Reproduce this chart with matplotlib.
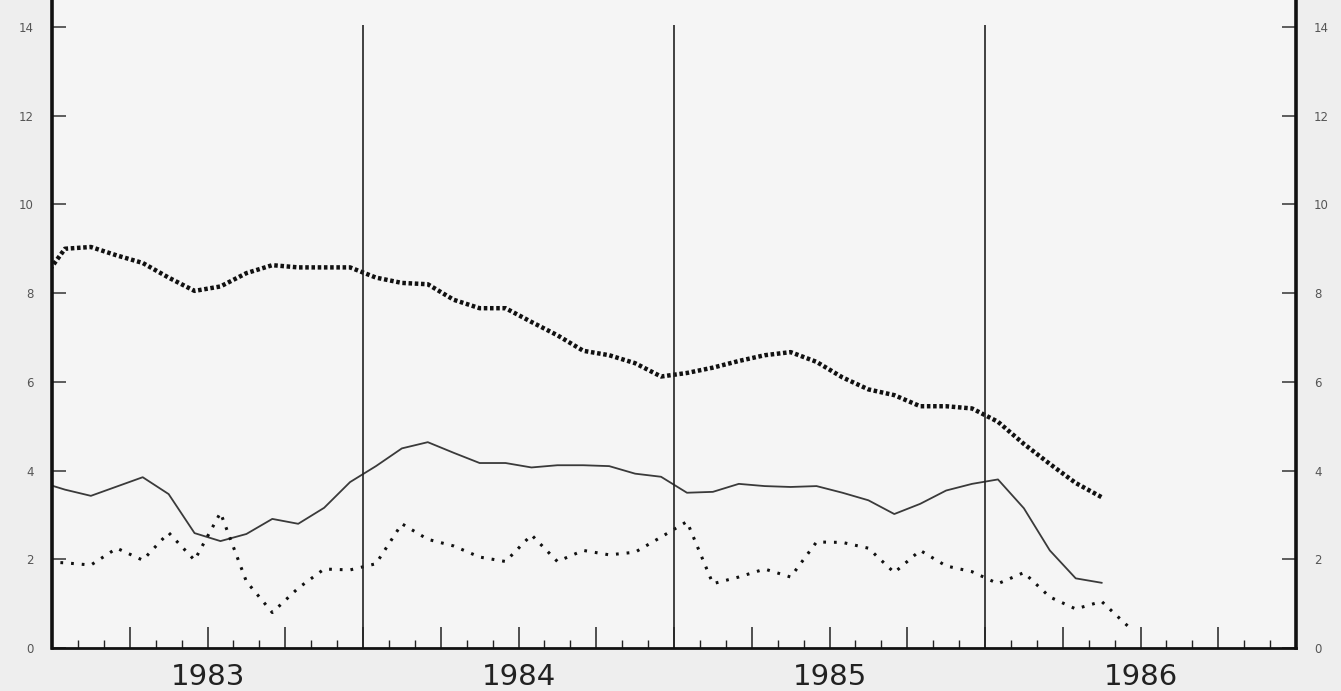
import numpy as np
import matplotlib
matplotlib.use("Agg")
from matplotlib import pyplot as plt
from matplotlib.ticker import MultipleLocator

# monthly values, first point is Dec 1982 (clipped by the axis)
series_top = [8.2, 9.0, 9.04, 8.85, 8.68, 8.35, 8.05, 8.15, 8.45, 8.63, 8.58, 8.58,
              8.58, 8.35, 8.23, 8.2, 7.85, 7.66, 7.66, 7.35, 7.05, 6.7, 6.6, 6.42,
              6.12, 6.2, 6.32, 6.47, 6.6, 6.67, 6.45, 6.1, 5.83, 5.7, 5.45, 5.45,
              5.4, 5.1, 4.6, 4.15, 3.72, 3.4]
series_mid = [3.75, 3.57, 3.43, 3.64, 3.85, 3.47, 2.59, 2.41, 2.57, 2.91, 2.80, 3.16,
              3.74, 4.1, 4.5, 4.64, 4.4, 4.17, 4.17, 4.07, 4.12, 4.12, 4.1, 3.93,
              3.86, 3.5, 3.52, 3.7, 3.65, 3.63, 3.65, 3.5, 3.33, 3.02, 3.25, 3.55,
              3.7, 3.8, 3.15, 2.2, 1.57, 1.47]
series_low = [1.95, 1.92, 1.87, 2.25, 1.98, 2.6, 1.98, 3.05, 1.5, 0.8, 1.35, 1.78,
              1.76, 1.9, 2.8, 2.45, 2.3, 2.05, 1.95, 2.55, 1.95, 2.2, 2.1, 2.16,
              2.5, 2.85, 1.45, 1.6, 1.78, 1.6, 2.39, 2.38, 2.25, 1.7, 2.2, 1.85,
              1.72, 1.45, 1.7, 1.15, 0.88, 1.05, 0.5]
years = [1983, 1984, 1985, 1986]
year_labels = ['1983', '1984', '1985', '1986']
y_ticks = [0, 2, 4, 6, 8, 10, 12, 14]


def month_x(values):
    # mid-month positions, index 0 = December 1982
    return 1983 + (np.arange(len(values)) - 0.5) / 12.0


fig = plt.figure(figsize=(13.41, 6.91), dpi=100, facecolor='#eeeeee')
ax = fig.add_axes([52 / 1341, 1 - 648 / 691, 1244 / 1341, 648 / 691])
ax.set_facecolor('#f5f5f5')

ax.plot(month_x(series_top), series_top, color='#111111', lw=3.2,
        linestyle=(0, (0.8, 0.6)), solid_capstyle='butt', dash_capstyle='butt')
ax.plot(month_x(series_mid), series_mid, color='#3a3a3a', lw=1.3)
ax.plot(month_x(series_low), series_low, color='#111111', lw=2.2,
        linestyle=(0, (0.9, 2.6)))

# year boundaries
ax.vlines(years[1:], 0, 14.05, color='#222222', lw=1.2)

ax.set_xlim(1983, 1987)
ax.set_ylim(0, 648 / 44.36)

ax.xaxis.set_major_locator(MultipleLocator(0.25))
ax.xaxis.set_minor_locator(MultipleLocator(1 / 12))
ax.tick_params(axis='x', which='major', direction='in', length=15, width=1.1,
               color='#222222', labelbottom=False)
ax.tick_params(axis='x', which='minor', direction='in', length=6, width=1.0,
               color='#222222')

ax.set_yticks(y_ticks)
ax.set_yticklabels([str(v) for v in y_ticks])
ax.tick_params(axis='y', direction='in', length=10, width=1.1, color='#333333',
               labelsize=8.5, labelcolor='#555555', pad=13,
               left=True, right=True, labelleft=True, labelright=True)

for side in ['left', 'right']:
    ax.spines[side].set_linewidth(2.6)
    ax.spines[side].set_color('#111111')
ax.spines['bottom'].set_linewidth(2.0)
ax.spines['bottom'].set_color('#111111')
ax.spines['top'].set_visible(False)

# year names centred under each year
for yr, lab in zip(years, year_labels):
    ax.text(yr + 0.5, -0.045, lab, transform=ax.get_xaxis_transform(),
            ha='center', va='center', fontsize=21, color='#222222')

fig.savefig('out.png', dpi=100, facecolor=fig.get_facecolor())
